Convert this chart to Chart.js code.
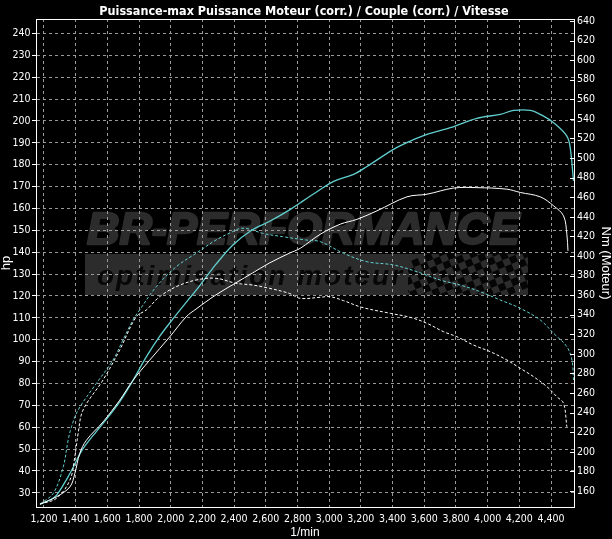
<!DOCTYPE html>
<html>
<head>
<meta charset="utf-8">
<script src="https://cdn.jsdelivr.net/npm/chart.js@4.4.1/dist/chart.umd.min.js"></script>
<style>
  html, body { margin: 0; padding: 0; background: #000; }
</style>
</head>
<body>
<canvas id="dyno" width="612" height="539"></canvas>
<script>
// tick labels
var rpmTicks = [1200, 1400, 1600, 1800, 2000, 2200, 2400, 2600, 2800, 3000, 3200, 3400, 3600, 3800, 4000, 4200, 4400];
var hpTicks = [30, 40, 50, 60, 70, 80, 90, 100, 110, 120, 130, 140, 150, 160, 170, 180, 190, 200, 210, 220, 230, 240];
var nmTicks = [160, 180, 200, 220, 240, 260, 280, 300, 320, 340, 360, 380, 400, 420, 440, 460, 480, 500, 520, 540, 560, 580, 600, 620, 640];

// tuned power (hp), cyan solid
var tunedPowerRpm = [1175, 1238, 1280, 1364, 1447, 1573, 1678, 1762, 1846, 1930, 2014, 2108, 2160, 2286, 2391, 2506, 2622, 2748, 2818, 2923, 3028, 3154, 3239, 3406, 3512, 3617, 3764, 3932, 4080, 4164, 4269, 4353, 4416, 4500, 4521, 4542];
var tunedPower = [24.8, 26.7, 28.9, 38.8, 50.2, 61.7, 71.6, 81.4, 92.1, 101.5, 109.5, 118, 122.5, 134.5, 143.2, 149.8, 154, 159.2, 162.6, 167.6, 172.4, 175.6, 179.2, 187, 190.8, 193.9, 196.9, 201.2, 203, 204.8, 204.8, 202.2, 199.2, 193.1, 187.8, 172.6];

// stock power (hp), white solid
var stockPowerRpm = [1175, 1280, 1364, 1395, 1426, 1468, 1573, 1678, 1762, 1867, 1993, 2097, 2160, 2286, 2412, 2517, 2622, 2748, 2818, 2944, 3070, 3175, 3302, 3491, 3617, 3785, 3932, 4121, 4206, 4332, 4416, 4479, 4500, 4507];
var stockPower = [24.8, 28.2, 32.7, 38.8, 48, 54, 62.4, 72.3, 81.4, 90.6, 101.2, 110.4, 114, 120.5, 126, 130.5, 135, 139.5, 141.8, 148.2, 152.8, 155, 158.9, 165.3, 166.5, 169.3, 169.5, 168.8, 167.3, 165.3, 161.2, 156.6, 148.2, 140.6];

// tuned torque (Nm), cyan dashed
var tunedTorqueRpm = [1175, 1259, 1322, 1353, 1374, 1416, 1531, 1636, 1699, 1762, 1804, 1909, 2035, 2160, 2286, 2391, 2439, 2496, 2580, 2706, 2852, 2944, 3091, 3239, 3406, 3554, 3701, 3827, 3953, 4080, 4206, 4332, 4416, 4500, 4532, 4542];
var tunedTorque = [146.6, 157.6, 184.7, 212, 225.6, 242.7, 269.9, 293.7, 314.2, 334.6, 344.8, 368.6, 389, 402.7, 416.3, 424.8, 428.2, 427.5, 423.1, 419.7, 416.3, 414.6, 402.7, 394.1, 390.8, 383.9, 375.4, 370.3, 363.5, 355, 346.5, 334.6, 321, 307.3, 293.7, 273.3];

// stock torque (Nm), white dashed
var stockTorqueRpm = [1175, 1280, 1364, 1395, 1416, 1447, 1573, 1678, 1783, 1846, 1930, 2035, 2160, 2286, 2412, 2517, 2622, 2748, 2818, 2944, 3007, 3091, 3207, 3386, 3512, 3617, 3722, 3806, 3911, 4017, 4122, 4206, 4290, 4374, 4437, 4479, 4500];
var stockTorque = [146.6, 152.5, 171.1, 195, 218.9, 242.7, 273.3, 303.9, 338, 344.8, 358.4, 368.6, 375.4, 377.2, 372.1, 370.3, 367, 361.8, 356.7, 357.8, 358.4, 354.3, 347.5, 341.4, 337.3, 331.2, 322.6, 317.5, 309, 302.2, 293.7, 285.2, 276.7, 266.5, 256.2, 249.5, 225.6];

var chartTitle = "Puissance-max Puissance Moteur (corr.) / Couple (corr.) / Vitesse";

var narrow = '"Liberation Sans Narrow", "DejaVu Sans Condensed", sans-serif';
var plain = '"Liberation Sans", Arial, sans-serif';
var cyan = "#62cfcf";
var gridGray = "#9a9a9a";

function pairs(xs, ys) {
	return xs.map(function(x, i) { return { x: x, y: ys[i] }; });
}

function tickList(arr) {
	return function(scale) {
		scale.ticks = arr.map(function(v) { return { value: v }; });
	};
}

var decor = {
	id: "decor",
	beforeDraw: function(chart) {
		var ctx = chart.ctx;
		ctx.save();
		ctx.fillStyle = "#000";
		ctx.fillRect(0, 0, chart.width, chart.height);

		// watermark
		ctx.fillStyle = "#2c2c2c";
		ctx.strokeStyle = "#2c2c2c";
		ctx.lineWidth = 2.5;
		ctx.lineJoin = "round";
		ctx.font = "italic bold 45px " + plain;
		ctx.textBaseline = "alphabetic";
		ctx.fillText("BR-PERFORMANCE", 87, 244);
		ctx.strokeText("BR-PERFORMANCE", 87, 244);
		ctx.fillRect(85, 254, 443, 41);

		// checkered flag
		ctx.save();
		ctx.beginPath();
		ctx.rect(408, 249, 120, 50);
		ctx.clip();
		ctx.translate(470, 274);
		ctx.rotate(-0.4);
		ctx.fillStyle = "#050505";
		for (var i = -10; i < 10; i++) {
			for (var j = -5; j < 5; j++) {
				if ((i + j) % 2 === 0) ctx.fillRect(i * 7, j * 7, 7, 7);
			}
		}
		ctx.restore();

		ctx.fillStyle = "#070707";
		ctx.font = "italic bold 28px " + plain;
		ctx.letterSpacing = "2px";
		ctx.fillText("optimisation moteur", 97, 285);
		ctx.restore();
	},
	afterDraw: function(chart) {
		var ctx = chart.ctx, a = chart.chartArea;
		ctx.save();
		ctx.strokeStyle = "#fff";
		ctx.lineWidth = 1;
		ctx.beginPath();
		ctx.moveTo(a.left, a.top + 0.5);
		ctx.lineTo(a.right + 1, a.top + 0.5);
		// inward ticks on the Nm axis
		var y2 = chart.scales.y2;
		nmTicks.forEach(function(v) {
			var py = Math.round(y2.getPixelForValue(v)) + 0.5;
			ctx.moveTo(a.right - 4, py);
			ctx.lineTo(a.right, py);
		});
		ctx.stroke();

		ctx.fillStyle = "#fff";
		ctx.font = "bold 12.5px " + narrow;
		ctx.textAlign = "center";
		ctx.textBaseline = "alphabetic";
		ctx.fillText(chartTitle, 304, 15);
		ctx.restore();
	}
};

var ctx = document.getElementById("dyno");

var chart = new Chart(ctx, {
	type: "line",
	data: {
		datasets: [
			{
				label: "Couple (corr.) serie",
				data: pairs(stockTorqueRpm, stockTorque),
				yAxisID: "y2",
				borderColor: "#fff",
				borderWidth: 1,
				borderDash: [3, 2]
			},
			{
				label: "Couple (corr.)",
				data: pairs(tunedTorqueRpm, tunedTorque),
				yAxisID: "y2",
				borderColor: cyan,
				borderWidth: 1,
				borderDash: [3, 2]
			},
			{
				label: "Puissance Moteur serie",
				data: pairs(stockPowerRpm, stockPower),
				yAxisID: "y",
				borderColor: "#fff",
				borderWidth: 1
			},
			{
				label: "Puissance Moteur (corr.)",
				data: pairs(tunedPowerRpm, tunedPower),
				yAxisID: "y",
				borderColor: cyan,
				borderWidth: 1.3
			}
		]
	},
	options: {
		responsive: false,
		animation: false,
		devicePixelRatio: 1,
		layout: { padding: { top: 19, left: 0, right: 0, bottom: 0 } },
		elements: {
			point: { radius: 0 },
			line: { tension: 0.35, fill: false }
		},
		plugins: {
			legend: { display: false },
			tooltip: { enabled: false },
			title: { display: false }
		},
		scales: {
			x: {
				type: "linear",
				min: 1150,
				max: 4545,
				afterBuildTicks: tickList(rpmTicks),
				afterFit: function(s) { s.height = 32; },
				ticks: {
					color: "#fff",
					font: { family: narrow, size: 10.5 },
					padding: 6,
					maxRotation: 0,
					autoSkip: false,
					callback: function(v) { return v.toLocaleString("en-US"); }
				},
				grid: { color: gridGray, drawTicks: false },
				border: { display: true, color: "#fff", width: 1, dash: [3, 3] },
				title: {
					display: true,
					text: "1/min",
					color: "#fff",
					font: { family: plain, size: 12, lineHeight: 1 },
					padding: 0
				}
			},
			y: {
				position: "left",
				min: 23.5,
				max: 246.6,
				afterBuildTicks: tickList(hpTicks),
				afterFit: function(s) { s.width = 36; },
				ticks: {
					color: "#fff",
					font: { family: narrow, size: 10.5 },
					padding: 1.5,
					autoSkip: false
				},
				grid: { color: gridGray, tickColor: "#fff", tickLength: 4 },
				border: { display: true, color: "#fff", width: 1, dash: [3, 3] },
				title: {
					display: true,
					text: "hp",
					color: "#fff",
					font: { family: plain, size: 13, lineHeight: 1 },
					padding: 0
				}
			},
			y2: {
				position: "right",
				min: 143.6,
				max: 642,
				afterBuildTicks: tickList(nmTicks),
				afterFit: function(s) { s.width = 38; },
				ticks: {
					color: "#fff",
					font: { family: narrow, size: 10.5 },
					padding: 3,
					autoSkip: false
				},
				grid: { drawOnChartArea: false, drawTicks: false },
				border: { display: true, color: "#fff", width: 1 },
				title: {
					display: true,
					text: "Nm (Moteur)",
					color: "#fff",
					font: { family: plain, size: 13, lineHeight: 1 },
					padding: 0
				}
			}
		}
	},
	plugins: [decor]
});
</script>
</body>
</html>
